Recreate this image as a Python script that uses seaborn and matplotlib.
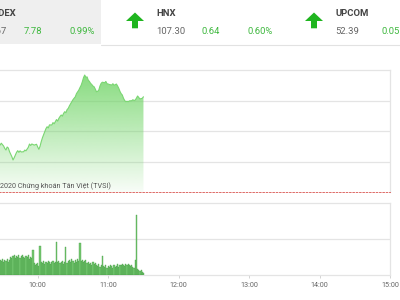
import numpy as np
import pandas as pd
import matplotlib
matplotlib.use("Agg")
import matplotlib.pyplot as plt
from matplotlib.patches import Polygon, Rectangle, PathPatch
from matplotlib.lines import Line2D
import seaborn as sns

# ---------------- data ----------------
# minutes after 09:00
price_minutes = [26, 28, 29, 31, 32, 33, 34, 35, 36, 38, 39, 40, 41, 42, 43, 44, 45, 46, 48, 49, 50,
                 52, 53, 54, 55, 57, 59, 60, 61, 62, 63, 64, 66, 67, 68, 69, 70, 72, 73, 74, 75,
                 76, 77, 78, 79, 80, 81, 82, 83, 84, 85, 86, 87, 89, 90, 91, 92, 93, 95, 96, 97,
                 98, 99, 100, 101, 102, 103, 104, 105, 106, 107, 108, 109, 110, 111, 112, 113, 114,
                 115, 117, 118, 119, 120, 121, 123, 124, 125, 127, 128, 129, 130, 131, 132, 133,
                 134, 135, 136, 137, 138, 140, 141, 142, 143, 144, 145, 146, 147, 148, 149, 150]
price_values = [786.0, 786.16, 786.4, 786.03, 785.7, 785.51, 785.9, 785.77, 785.3, 784.63, 784.20,
                784.5, 784.85, 785.2, 785.42, 785.2, 785.4, 785.25, 785.28, 785.5, 785.4,
                785.86, 786.29, 786.1, 786.3, 786.15, 786.26, 785.9, 785.60, 786.0, 786.60,
                787.1, 787.91, 788.3, 788.56, 788.4, 788.8, 788.79, 789.1, 788.95, 789.22,
                789.5, 789.3, 789.66, 789.9, 790.10, 789.95, 790.3, 790.53, 790.4, 790.8,
                790.97, 791.3, 791.84, 792.1, 792.3, 792.49, 792.9, 793.37, 793.7, 794.0,
                794.46, 795.0, 795.34, 795.04, 795.1, 794.68, 794.5, 794.25, 794.1, 793.9,
                793.80, 793.5, 793.15, 793.2, 793.37, 793.9, 794.25, 794.4, 794.33, 794.5,
                794.2, 794.16, 794.1, 794.03, 794.2, 794.0, 794.16, 793.9, 793.60, 793.2,
                792.9, 792.72, 792.3, 792.0, 791.84, 791.9, 791.84, 791.95, 791.97, 792.1,
                792.0, 792.06, 792.3, 792.59, 792.4, 792.20, 792.25, 792.29, 792.49]

vol_minutes = list(range(28, 151))
vol_values = [15, 14, 16, 13, 15, 14, 16, 13, 15, 18, 17, 19, 20, 17, 19, 18, 20, 17, 19, 20,
              18, 17, 19, 18, 20, 16, 18, 17, 25, 12, 10, 11, 12, 9, 29, 13, 12, 14, 11, 13,
              12, 14, 13, 11, 13, 14, 12, 13, 33, 13, 14, 12, 13, 14, 11, 13, 28, 12, 14, 15,
              13, 16, 14, 12, 15, 13, 16, 14, 32, 14, 15, 13, 14, 15, 12, 13, 11, 12, 10, 13,
              11, 12, 10, 9, 11, 8, 10, 19, 9, 8, 10, 7, 9, 8, 10, 9, 7, 10, 8, 9,
              11, 8, 10, 10, 11, 10, 9, 11, 10, 11, 10, 9, 10, 8, 7, 15, 60, 6, 5, 4,
              5, 3, 2]

tick_minutes = [0, 60, 120, 180, 240, 300, 360]
tick_labels = ["", "10:00", "11:00", "12:00", "13:00", "14:00", "15:00"]
price_grid = [784, 788, 792]
vol_grid = [36]

header_names = ["VN-INDEX", "HNX", "UPCOM"]
header_prices = ["793.67", "107.30", "52.39"]
header_changes = ["7.78", "0.64", "0.05"]
header_pcts = ["0.99%", "0.60%", "0.31%"]

# ---------------- style ----------------
sns.set_theme(style="white")
plt.rcParams["font.family"] = ["Roboto", "DejaVu Sans"]

W, H = 400, 300
fig = plt.figure(figsize=(4, 3), dpi=100)
fig.patch.set_facecolor("white")

def fx(px):
    return px / W

def fy(py):
    return 1 - py / H

GRID = "#e4e4e4"
GREEN_TXT = "#3fb83f"
ARROW = "#1fb51f"
GRAY_TXT = "#666666"

# ---------------- header ----------------
fig.patches.append(Rectangle((0, fy(44)), fx(101), 44 / H, transform=fig.transFigure,
                             facecolor="#efefef", edgecolor="none", zorder=0))
fig.lines.append(Line2D([fx(101), 1], [fy(44.5), fy(44.5)], transform=fig.transFigure,
                        color="#e2e2e2", lw=0.8))

col_x = [-22, 156, 335]
arrow_x = [None, 135, 314]
for i in range(3):
    x0 = col_x[i]
    if i == 0:
        fig.text(fx(17), fy(14), header_names[i], fontsize=6.8, fontweight="bold",
                 color="#444444", ha="right", va="center")
    else:
        fig.text(fx(x0), fy(14), header_names[i], fontsize=6.8, fontweight="bold",
                 color="#444444", ha="left", va="center")
    fig.text(fx(x0), fy(31.7), header_prices[i], fontsize=6.8, color=GRAY_TXT,
             ha="left", va="center")
    fig.text(fx(x0 + 46), fy(31.7), header_changes[i], fontsize=6.8, color=GREEN_TXT,
             ha="left", va="center")
    fig.text(fx(x0 + 92), fy(31.7), header_pcts[i], fontsize=6.8, color=GREEN_TXT,
             ha="left", va="center")
    if arrow_x[i] is not None:
        cx = arrow_x[i]
        pts = [(cx, 12.5), (cx + 9, 21), (cx + 3, 21), (cx + 3, 28.3), (cx - 3, 28.3),
               (cx - 3, 21), (cx - 9, 21)]
        fig.patches.append(Polygon([(fx(a), fy(b)) for a, b in pts], closed=True,
                                   transform=fig.transFigure, facecolor=ARROW,
                                   edgecolor="none"))

# ---------------- axes ----------------
left_px, right_px = -32.8, 390.2
ax1 = fig.add_axes([fx(left_px), fy(192), (right_px - left_px) / W, (192 - 70) / H])
ax2 = fig.add_axes([fx(left_px), fy(275), (right_px - left_px) / W, (275 - 202.7) / H])

YMIN, YMAX = 780, 796
for ax in (ax1, ax2):
    ax.set_facecolor("none")
    ax.set_xlim(0, 360)

# price panel
ax1.set_ylim(YMIN, YMAX)
for g in price_grid:
    ax1.axhline(g, color=GRID, lw=0.9, zorder=0)

sns.lineplot(x=price_minutes, y=price_values, ax=ax1, color="#7ad672", lw=0.8, zorder=3)
poly = ax1.fill_between(price_minutes, price_values, YMIN, color="none", lw=0)
path = poly.get_paths()[0]
grad = np.zeros((256, 1, 4))
grad[:, 0, 0] = 110 / 255
grad[:, 0, 1] = 212 / 255
grad[:, 0, 2] = 100 / 255
grad[:, 0, 3] = np.linspace(0.85, 0.05, 256)
im = ax1.imshow(grad, extent=[0, 360, YMIN, YMAX], aspect="auto", origin="upper", zorder=2)
clip = PathPatch(path, transform=ax1.transData, facecolor="none", edgecolor="none")
ax1.add_patch(clip)
im.set_clip_path(clip)
ax1.set_xlim(0, 360)
ax1.set_ylim(YMIN, YMAX)

ax1.set_xticks([])
ax1.set_yticks([])
ax1.set_xlabel("")
ax1.set_ylabel("")
ax1.spines["left"].set_visible(False)
ax1.spines["top"].set_color(GRID)
ax1.spines["right"].set_color(GRID)
ax1.spines["top"].set_linewidth(0.9)
ax1.spines["right"].set_linewidth(0.9)
ax1.spines["bottom"].set_color("#d9534f")
ax1.spines["bottom"].set_linestyle((0, (2, 2)))
ax1.spines["bottom"].set_linewidth(0.6)

fig.text(fx(0), fy(186.5), "2020 Chứng khoán Tân Việt (TVSI)", fontsize=5.2,
         color="#555555", ha="left", va="center")

# volume panel
sns.histplot(x=vol_minutes, weights=vol_values, discrete=True, ax=ax2,
             color="#78c873", edgecolor="#3e9a3e", linewidth=0.25, alpha=1, zorder=3)
ax2.set_ylim(0, 72.3)
for g in vol_grid:
    ax2.axhline(g, color=GRID, lw=0.9, zorder=0)
ax2.set_xlim(0, 360)
ax2.set_yticks([])
ax2.set_xticks(tick_minutes)
ax2.set_xticklabels(tick_labels)
ax2.set_xlabel("")
ax2.set_ylabel("")
ax2.tick_params(axis="x", length=2.5, width=0.6, color="#cccccc", pad=2.5,
                labelsize=5.2, labelcolor=GRAY_TXT, direction="out", bottom=True)
ax2.spines["left"].set_visible(False)
for s in ("top", "right", "bottom"):
    ax2.spines[s].set_color(GRID)
    ax2.spines[s].set_linewidth(0.9)

fig.savefig("out.png", dpi=100, facecolor="white")
